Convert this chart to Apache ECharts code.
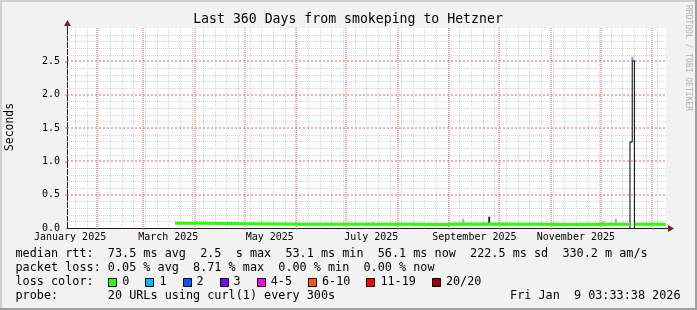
<!DOCTYPE html>
<html><head><meta charset="utf-8">
<script src="https://cdn.jsdelivr.net/npm/echarts@6/dist/echarts.min.js"></script>
<style>html,body{margin:0;padding:0;background:#f2f2f2}#c{width:697px;height:310px}</style>
</head><body><div id="c"></div>
<script>
// x values are days since 2025-01-01 00:00
const startDay = 13.148;   // Tue Jan 14 2025 03:33:38
const endDay = 373.148;    // Fri Jan  9 2026 03:33:38
const monthStarts = [31, 59, 90, 120, 151, 181, 212, 243, 273, 304, 334, 365];
const weekStarts = [18, 25, 32, 39, 46, 53, 60, 67, 74, 81, 88, 95, 102, 109, 116, 123, 130, 137, 144, 151, 158, 165, 172, 179, 186, 193, 200, 207, 214, 221, 228, 235, 242, 249, 256, 263, 270, 277, 284, 291, 298, 305, 312, 319, 326, 333, 340, 347, 354, 361, 368];
const labelDays = [15, 74, 135, 196, 258, 319];
const labelNames = ['January 2025', 'March 2025', 'May 2025', 'July 2025', 'September 2025', 'November 2025'];
const yMinorTicks = [0.1, 0.2, 0.3, 0.4, 0.6, 0.7, 0.8, 0.9, 1.1, 1.2, 1.3, 1.4, 1.6, 1.7, 1.8, 1.9, 2.1, 2.2, 2.3, 2.4, 2.6, 2.7, 2.8, 2.9];
const yMajorTicks = [0.5, 1.0, 1.5, 2.0, 2.5];
const yLabelTicks = [0.0, 0.5, 1.0, 1.5, 2.0, 2.5];

// median rtt (seconds) with 0 loss, each value held until the next day
const medianDays = [78.0, 93.0, 155.2, 156.4, 216.3, 241.3, 242.3, 243.4, 244.9, 246.0, 303.4, 306.4, 351.6, 351.7, 354.4, 371.2, 373.1];
const medianVals = [0.072, 0.058, 0.062, 0.058, 0.054, 0.060, 0.053, 0.060, 0.053, 0.058, 0.052, 0.058, 0.058, '-', 0.058, 0.054, 0.054];
// median rtt with 2/20 loss (blue)
const loss2Days = [351.6, 352.8, 352.85, 352.9, 354.1];
const loss2Vals = [1.29, 1.29, '-', 2.51, 2.51];
// connecting rule of the outage
const ruleDays = [351.5, 351.5, 352.85, 352.85, 354.15, 354.15];
const ruleVals = [0, 1.29, 1.29, 2.51, 2.51, 0];
// smoke (ping spread): day, low, high
const smokeDays = [90.5, 91.8, 197.0, 251.3, 335.3, 343.0, 352.9];
const smokeLow = [0.072, 0.072, 0.058, 0.058, 0.058, 0.058, 2.51];
const smokeHigh = [0.100, 0.095, 0.090, 0.140, 0.100, 0.140, 2.57];
const darkSmokeDays = [266.9];
const darkSmokeLow = [0.058];
const darkSmokeHigh = [0.170];

const lossColors = ['#26ff00', '#00b8ff', '#0059ff', '#7e00ff', '#ff00ff', '#ff5500', '#ff0000', '#a10000'];
const lossLabels = ['0', '1', '2', '3', '4-5', '6-10', '11-19', '20/20'];

const zip = (a, b) => a.map((d, i) => [d, b[i]]);
const zip3 = (a, b, c) => a.map((d, i) => [d, b[i], c[i]]);

const MONO = '"DejaVu Sans Mono", monospace';
const GRAY = '#d6d6d6';
const RED = 'rgba(235,95,95,0.5)';

const chart = echarts.init(document.getElementById('c'), null, {renderer: 'canvas'});

function smokeRender(color) {
  return function (params, api) {
    const p1 = api.coord([api.value(0), api.value(1)]);
    const p2 = api.coord([api.value(0), api.value(2)]);
    return {type: 'rect', shape: {x: p1[0] - 1, y: p2[1], width: 2, height: p1[1] - p2[1]}, style: {fill: color}};
  };
}

// grid rules are drawn by custom series through the axes, snapped to whole pixels
function vRule(color, w) {
  return function (params, api) {
    const p = api.coord([api.value(0), 0]);
    const top = api.coord([api.value(0), 3]);
    const x = w === 2 ? Math.round(p[0]) : Math.round(p[0]) + 0.5;
    return {type: 'line', shape: {x1: x, y1: top[1], x2: x, y2: p[1]},
      style: {stroke: color, lineWidth: w, lineDash: [1, 1]}, silent: true};
  };
}
function hRule(color, w, dash) {
  return function (params, api) {
    const l = api.coord([startDay, api.value(0)]);
    const r = api.coord([endDay, api.value(0)]);
    const y = w === 2 ? Math.round(l[1]) : Math.round(l[1]) + 0.5;
    return {type: 'line', shape: {x1: l[0], y1: y, x2: r[0], y2: y},
      style: {stroke: color, lineWidth: w, lineDash: dash}, silent: true};
  };
}

// legend graphics
const cw = 7.1;
const rowY = [254.4, 268.4, 282.4, 296.4];
const legendGraphics = [];
const txt = (t, x, y, opts) => Object.assign({type: 'text', x: x, y: y, silent: true,
  style: Object.assign({text: t, fill: '#000', fontFamily: MONO, fontSize: 11.8, align: 'left', verticalAlign: 'middle'}, opts || {})});
legendGraphics.push(txt('median rtt:  73.5 ms avg  2.5  s max  53.1 ms min  56.1 ms now  222.5 ms sd  330.2 m am/s', 15.5, rowY[0]));
legendGraphics.push(txt('packet loss: 0.05 % avg  8.71 % max  0.00 % min  0.00 % now', 15.5, rowY[1]));
legendGraphics.push(txt('loss color:', 15.5, rowY[2]));
legendGraphics.push(txt('probe:       20 URLs using curl(1) every 300s', 15.5, rowY[3]));
legendGraphics.push(txt('Fri Jan  9 03:33:38 2026', 680.5, rowY[3], {align: 'right'}));
let bx = 108.3;
lossLabels.forEach((l, i) => {
  legendGraphics.push({type: 'rect', silent: true, shape: {x: Math.round(bx) + 0.5, y: 278.5, width: 8, height: 8},
    style: {fill: lossColors[i], stroke: '#000', lineWidth: 1}});
  legendGraphics.push(txt(l, bx + 14, rowY[2]));
  bx += 14 + l.length * cw + 16;
});

const option = {
  animation: false,
  backgroundColor: '#f2f2f2',
  grid: {left: 67, top: 28, width: 599, height: 200, show: true, backgroundColor: '#ffffff', borderWidth: 0},
  xAxis: {
    type: 'value', min: startDay, max: endDay,
    splitLine: {show: false},
    axisLine: {show: true, lineStyle: {color: '#1f1f1f', width: 1}},
    axisTick: {show: true, customValues: monthStarts, length: 2, lineStyle: {color: RED, width: 2}},
    axisLabel: {customValues: labelDays, formatter: v => labelNames[labelDays.indexOf(Math.round(v))] || '',
      fontFamily: MONO, fontSize: 10, color: '#000', margin: 4}
  },
  yAxis: {
    type: 'value', min: 0, max: 3,
    splitLine: {show: false},
    axisLine: {show: true, lineStyle: {color: '#1f1f1f', width: 1}},
    axisTick: {show: true, customValues: yMajorTicks, length: 2, lineStyle: {color: RED, width: 2}},
    axisLabel: {customValues: yLabelTicks, formatter: v => v.toFixed(1), fontFamily: MONO, fontSize: 10, color: '#000', margin: 7}
  },
  series: [
    {name: 'week grid', type: 'custom', z: 1, silent: true, data: weekStarts.map(d => [d]), encode: {x: 0}, renderItem: vRule(GRAY, 1)},
    {name: 'minor grid', type: 'custom', z: 1, silent: true, data: yMinorTicks.map(v => [v]), encode: {y: 0}, renderItem: hRule(GRAY, 1, [1, 1])},
    {name: 'month grid', type: 'custom', z: 1, silent: true, data: monthStarts.map(d => [d]), encode: {x: 0}, renderItem: vRule(RED, 2)},
    {name: 'major grid', type: 'custom', z: 1, silent: true, data: yMajorTicks.map(v => [v]), encode: {y: 0}, renderItem: hRule(RED, 2, [2, 2])},
    {name: 'rule', type: 'line', z: 2, data: zip(ruleDays, ruleVals), symbol: 'none',
      lineStyle: {color: '#000', width: 1}, silent: true},
    {name: 'smoke', type: 'custom', z: 3, silent: true, data: zip3(smokeDays, smokeLow, smokeHigh),
      encode: {x: 0, y: [1, 2]}, renderItem: smokeRender('#a8a8a8')},
    {name: 'smoke dark', type: 'custom', z: 3, silent: true, data: zip3(darkSmokeDays, darkSmokeLow, darkSmokeHigh),
      encode: {x: 0, y: [1, 2]}, renderItem: smokeRender('#2a2a2a')},
    {name: 'loss 2', type: 'line', z: 4, step: 'end', data: zip(loss2Days, loss2Vals), symbol: 'none', connectNulls: false,
      lineStyle: {color: lossColors[2], width: 2}, silent: true},
    {name: 'median', type: 'line', z: 5, step: 'end', data: zip(medianDays, medianVals), symbol: 'none', connectNulls: false,
      lineStyle: {color: lossColors[0], width: 3}, silent: true}
  ],
  graphic: [
    {type: 'rect', silent: true, shape: {x: 0, y: 0, width: 697, height: 2}, style: {fill: '#cfcfcf'}},
    {type: 'rect', silent: true, shape: {x: 0, y: 0, width: 2, height: 310}, style: {fill: '#cfcfcf'}},
    {type: 'rect', silent: true, shape: {x: 0, y: 308, width: 697, height: 2}, style: {fill: '#9e9e9e'}},
    {type: 'rect', silent: true, shape: {x: 695, y: 0, width: 2, height: 310}, style: {fill: '#9e9e9e'}},
    {type: 'text', silent: true, x: 348, y: 19.5, style: {text: 'Last 360 Days from smokeping to Hetzner', fill: '#000',
      fontFamily: MONO, fontSize: 13.2, align: 'center', verticalAlign: 'middle'}},
    {type: 'text', silent: true, x: 10.5, y: 127, rotation: Math.PI / 2, style: {text: 'Seconds', fill: '#000',
      fontFamily: MONO, fontSize: 11.4, align: 'center', verticalAlign: 'middle'}},
    {type: 'text', silent: true, x: 688.5, y: 58, rotation: -Math.PI / 2, style: {text: 'RRDTOOL / TOBI OETIKER', fill: '#b0b0b0',
      fontFamily: MONO, fontSize: 8, align: 'center', verticalAlign: 'middle'}},
    // axis extensions + arrows
    {type: 'line', silent: true, shape: {x1: 67.5, y1: 28, x2: 67.5, y2: 23}, style: {stroke: '#1f1f1f', lineWidth: 1}},
    {type: 'polygon', silent: true, shape: {points: [[64, 26], [71, 26], [67.5, 20]]}, style: {fill: '#801f1f'}},
    {type: 'line', silent: true, shape: {x1: 666, y1: 228.5, x2: 670, y2: 228.5}, style: {stroke: '#1f1f1f', lineWidth: 1}},
    {type: 'polygon', silent: true, shape: {points: [[668, 225], [668, 232], [674, 228.5]]}, style: {fill: '#801f1f'}}
  ].concat(legendGraphics)
};
chart.setOption(option);
</script>
</body></html>
